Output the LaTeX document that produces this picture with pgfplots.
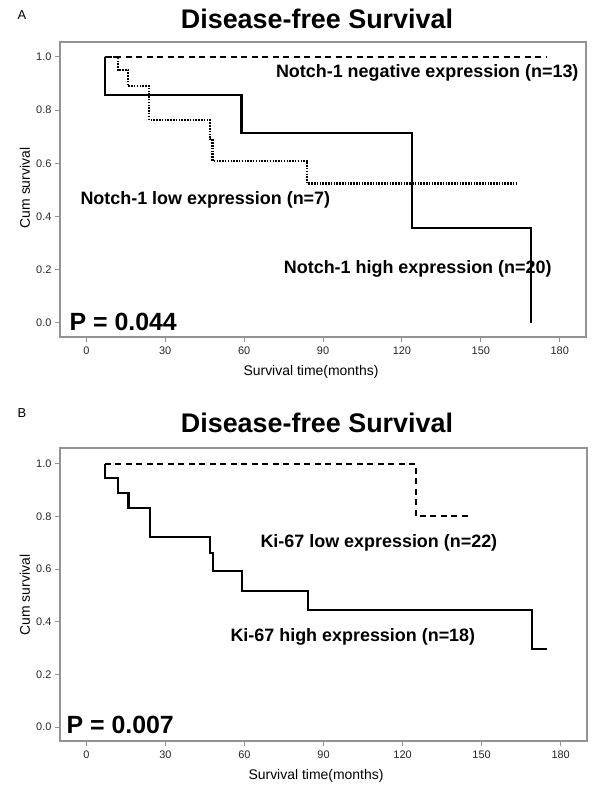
\documentclass[border=0pt]{standalone}
\usepackage{pgfplots}
\pgfplotsset{compat=1.18}
\usepackage{fontspec}
\setmainfont{Liberation Sans}
\begin{document}
\begin{tikzpicture}
\useasboundingbox (0,0) rectangle (603bp,-791bp);
\pgfplotsset{km/.style={
  scale only axis,
  anchor=south west,
  xmin=-10, xmax=190,
  ymin=-0.053,
  axis line style={draw=gray!85, line width=1.2pt},
  xtick={0,30,60,90,120,150,180},
  ytick={0,0.2,0.4,0.6,0.8,1},
  yticklabel style={/pgf/number format/.cd, fixed, fixed zerofill, precision=1},
  /pgf/number format/assume math mode=true,
  tick style={draw=gray!85, line width=0.9pt},
  tick align=outside,
  major tick length=5bp,
  xtick pos=bottom, ytick pos=left,
  ticklabel style={font=\fontsize{11}{13}\selectfont, text=black!85},
  xticklabel style={yshift=-1bp},
  clip=false,
}}
\tikzset{
  kmsolid/.style={black, line width=2.1pt, line join=miter, line cap=butt},
  kmdash/.style={black, line width=2pt, dash pattern=on 6bp off 4.5bp, line join=miter},
  kmdot/.style={black, line width=2.1pt, dash pattern=on 1.5bp off 1.3bp, line join=miter},
}
% ---------------- Panel A ----------------
\begin{axis}[km, at={(60bp,-337bp)}, width=526bp, height=295bp, ymax=1.056]
\addplot[kmdash] coordinates {(7,1) (175,1)};
\addplot[kmdot] coordinates {
(7,1) (12,1) (12,0.95) (16,0.95) (16,0.889) (24,0.889) (24,0.762) (47,0.762) (47,0.69) (48,0.69) (48,0.61) (84,0.61) (84,0.524) (164,0.524)};
\addplot[kmsolid] coordinates {
(7,1) (7,0.857) (59,0.857) (59,0.714) (124,0.714) (124,0.357) (169,0.357) (169,0)};
\end{axis}
% ---------------- Panel B ----------------
\begin{axis}[km, at={(60bp,-741bp)}, width=527bp, height=293bp, ymax=1.059]
\addplot[kmdash] coordinates {(7,1) (125,1) (125,0.8) (146,0.8)};
\addplot[kmsolid] coordinates {
(7,1) (7,0.944) (12,0.944) (12,0.889) (16,0.889) (16,0.833) (24,0.833) (24,0.722) (47,0.722) (47,0.66) (48,0.66) (48,0.592) (59,0.592) (59,0.518) (84,0.518) (84,0.444) (169,0.444) (169,0.296) (175,0.296)};
\end{axis}
% ---------------- Texts ----------------
\node[font=\fontsize{13}{15}\selectfont] at (22bp,-15bp) {A};
\node[font=\fontsize{27}{31}\bfseries, anchor=base] at (317bp,-28bp) {Disease-free Survival};
\node[font=\fontsize{18}{22}\bfseries, anchor=base east] at (582bp,-77bp) {Notch-1 negative expression (n=13)};
\node[font=\fontsize{18}{22}\bfseries, anchor=base west] at (77bp,-204bp) {Notch-1 low expression (n=7)};
\node[font=\fontsize{18}{22}\bfseries, anchor=base east] at (555bp,-273bp) {Notch-1 high expression (n=20)};
\node[font=\fontsize{25}{30}\bfseries, anchor=base west] at (66bp,-330bp) {P = 0.044};
\node[font=\fontsize{14}{16}\selectfont] at (311bp,-372bp) {Survival time(months)};
\node[font=\fontsize{14}{16}\selectfont, rotate=90] at (25bp,-188bp) {Cum survival};
\node[font=\fontsize{13}{15}\selectfont] at (22bp,-413bp) {B};
\node[font=\fontsize{27}{31}\bfseries, anchor=base] at (317bp,-432bp) {Disease-free Survival};
\node[font=\fontsize{18}{22}\bfseries, anchor=base west] at (257bp,-547bp) {Ki-67 low expression (n=22)};
\node[font=\fontsize{18}{22}\bfseries, anchor=base west] at (227bp,-641bp) {Ki-67 high expression (n=18)};
\node[font=\fontsize{25}{30}\bfseries, anchor=base west] at (63bp,-733bp) {P = 0.007};
\node[font=\fontsize{14}{16}\selectfont] at (316bp,-776bp) {Survival time(months)};
\node[font=\fontsize{14}{16}\selectfont, rotate=90] at (25bp,-595bp) {Cum survival};
\end{tikzpicture}
\end{document}
